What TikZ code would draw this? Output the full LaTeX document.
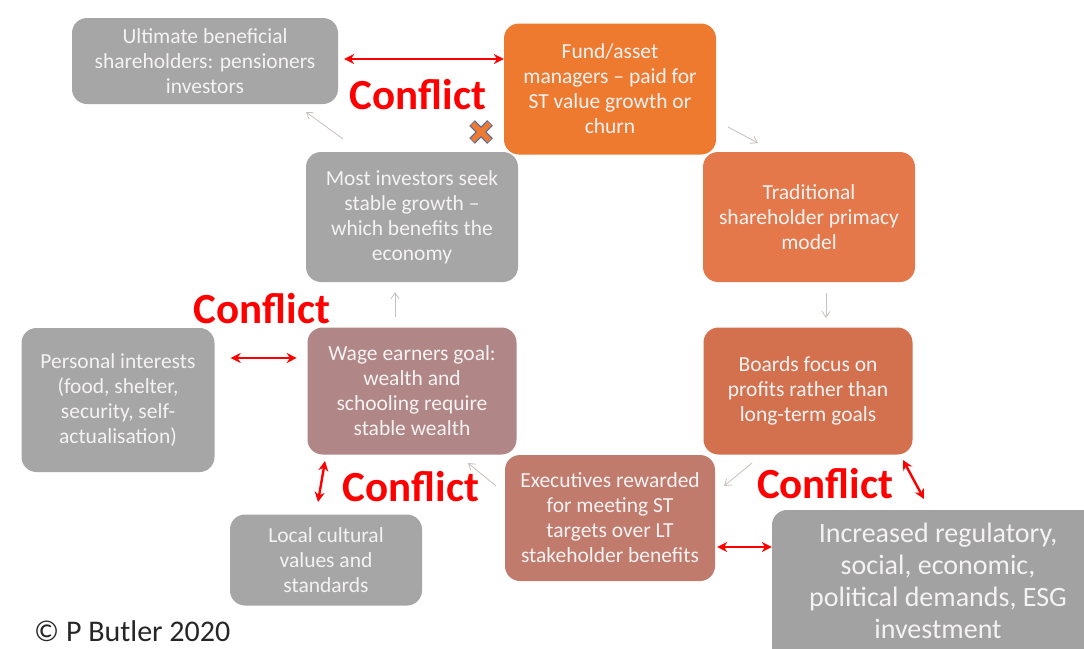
\documentclass[tikz,border=0pt]{standalone}
\usepackage{fontspec}
\setmainfont{Carlito}
\usetikzlibrary{arrows.meta}
\definecolor{boxgray}{HTML}{A6A6A6}
\definecolor{biggray}{HTML}{A2A2A2}
\definecolor{orangeA}{HTML}{EE7A30}
\definecolor{orangeB}{HTML}{E4784A}
\definecolor{orangeC}{HTML}{D3714F}
\definecolor{roseA}{HTML}{C07B6D}
\definecolor{roseB}{HTML}{B18686}
\definecolor{boxtext}{HTML}{F4F2F2}
\definecolor{thinarrow}{HTML}{C8C0BC}
\definecolor{conflictred}{HTML}{FF0000}
\definecolor{xblue}{HTML}{4F6FA8}
\tikzset{
  card/.style={rectangle, rounded corners=15pt, inner sep=0pt, align=center,
    text=boxtext, font=\fontsize{21.5}{25}\selectfont},
  thin/.style={-{Straight Barb[length=6pt,width=8pt]}, draw=thinarrow, line width=0.8pt},
  clash/.style={{Stealth[length=10pt,width=10pt]}-{Stealth[length=10pt,width=10pt]}, draw=conflictred, line width=2.4pt},
  conflict/.style={text=conflictred, font=\fontsize{43}{46}\selectfont\bfseries, inner sep=0pt}
}
\begin{document}
\begin{tikzpicture}[x=1pt,y=-1pt]
\useasboundingbox (0,0) rectangle (1084,648);
\clip (0,0) rectangle (1084,648);
\fill[white] (0,0) rectangle (1084,648);

\node[card, fill=boxgray, minimum width=266pt, minimum height=86pt] (ult) at (205,61)
  {Ultimate beneficial\\shareholders: pensioners\\investors};
\node[card, fill=orangeA, minimum width=212pt, minimum height=131pt] (fund) at (610,89)
  {Fund/asset\\managers -- paid for\\ST value growth or\\churn};
\node[card, fill=orangeB, minimum width=212pt, minimum height=130pt] (trad) at (809,217)
  {Traditional\\shareholder primacy\\model};
\node[card, fill=orangeC, minimum width=209pt, minimum height=127pt] (boards) at (808,391)
  {Boards focus on\\profits rather than\\long-term goals};
\node[card, fill=roseA, minimum width=210pt, minimum height=126pt] (exec) at (610,518)
  {Executives rewarded\\for meeting ST\\targets over LT\\stakeholder benefits};
\node[card, fill=roseB, minimum width=209pt, minimum height=127pt] (wage) at (412,391)
  {Wage earners goal:\\wealth and\\schooling require\\stable wealth};
\node[card, fill=boxgray, minimum width=212pt, minimum height=130pt] (most) at (412,217)
  {Most investors seek\\stable growth --\\which benefits the\\economy};
\node[card, fill=boxgray, minimum width=193pt, minimum height=144pt] (pers) at (118,400)
  {Personal interests\\(food, shelter,\\security, self-\\actualisation)};
\node[card, fill=boxgray, minimum width=192pt, minimum height=91pt] (local) at (326,560)
  {Local cultural\\values and\\standards};
\node[card, fill=biggray, minimum width=328pt, minimum height=158pt] (incr) at (936,589) {};
\node[align=center, text=boxtext, inner sep=0pt, font=\fontsize{28}{32}\selectfont] (incrtext) at (938,581)
  {Increased regulatory,\\social, economic,\\political demands, ESG\\investment};

% thin flow arrows
\draw[thin] (343,139) -- (306,112);
\draw[thin] (728,127) -- (758,143);
\draw[thin] (826,293) -- (826,318);
\draw[thin] (752,463) -- (724,486);
\draw[thin] (496,486) -- (468,463);
\draw[thin] (395,317) -- (395,292);

% conflict arrows
\draw[clash] (ult.east) ++(6,-2) coordinate (c1a) -- (fund.west |- c1a);
\draw[clash] (pers.east |- 0,358) ++(16,0) coordinate (c2a) -- ++(66,0) coordinate (c2b);
\draw[clash] (325,461) coordinate (c3a) -- (318,502) coordinate (c3b);
\draw[clash] (exec.east |- 0,547) ++(2,0) coordinate (c4a) -- (incr.west |- c4a);
\draw[clash] (903,460) coordinate (c5a) -- (924,499) coordinate (c5b);

% conflict labels
\node[conflict] (k1) at (418,95) {Conflict};
\node[conflict] (k2) at (262,309) {Conflict};
\node[conflict] (k3) at (411,487) {Conflict};
\node[conflict] (k4) at (825,484) {Conflict};

% cross mark
\node[inner sep=0pt] (xmark) at (481,132) {};
\draw[xblue, line width=8pt] (472,123) -- (490,141) (490,123) -- (472,141);
\draw[orangeA, line width=5.5pt] (472.5,123.5) -- (489.5,140.5) (489.5,123.5) -- (472.5,140.5);

\node[anchor=base west, inner sep=0pt, text=black!85, font=\fontsize{30}{34}\selectfont] (copy) at (34,641) {© P Butler 2020};
\end{tikzpicture}
\end{document}
